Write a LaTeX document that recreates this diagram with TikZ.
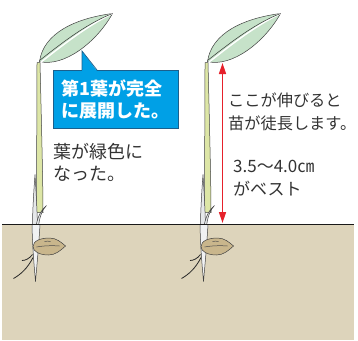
\documentclass[tikz,border=0pt]{standalone}
\usepackage{fontspec}
\setmainfont{Noto Sans CJK JP}
\usetikzlibrary{arrows.meta}

\definecolor{soil}{HTML}{DDD4BB}
\definecolor{leafgreen}{HTML}{C6E2C9}
\definecolor{stemgreen}{HTML}{DDE6A6}
\definecolor{sheath}{HTML}{E6E8EA}
\definecolor{husk}{HTML}{C9B68C}
\definecolor{noteblue}{HTML}{00A0E6}
\definecolor{noteedge}{HTML}{1B5F8C}
\definecolor{arrowred}{HTML}{E6212B}
\definecolor{ink}{HTML}{333333}

\begin{document}
\begin{tikzpicture}[x=1pt,y=-1pt,
  outline/.style={draw=black!75,line width=0.5pt},
  plaintext/.style={anchor=north west,inner sep=0pt,align=left,text=ink,font=\fontsize{17}{23}\selectfont},
  note/.style={anchor=north west,fill=noteblue,draw=noteedge,line width=0.7pt,text=white,align=left,
    font=\bfseries\fontsize{18}{22}\selectfont,inner xsep=5pt,inner ysep=4pt,minimum width=125pt,minimum height=58pt},
  seedling/.pic={
    \draw[outline,fill=leafgreen] (0,-163) .. controls (4,-191) and (35,-206) .. (73,-211)
      .. controls (57,-182) and (24,-157) .. cycle;
    \draw[white,line width=1.4pt] (1,-162) .. controls (19,-176) and (46,-198) .. (73,-211);
    \draw[black!80,line width=0.5pt] (0,-164) .. controls (18,-178) and (45,-200) .. (73,-211);
    \draw[outline,fill=stemgreen] (-2.5,-162) -- (0.5,-162) .. controls (2,-100) and (3.5,-40) .. (3.5,-12)
      -- (-3,-12) .. controls (-3,-60) and (-2.5,-120) .. cycle;
    \draw[outline,fill=sheath] (-4.5,-50) .. controls (-6,-30) and (-7,-10) .. (-7,0)
      -- (-2,0) .. controls (-2.5,-15) and (-3.5,-35) .. cycle;
    \draw[outline,fill=sheath] (7,-19) .. controls (3,-15) and (0,-8) .. (-1,2)
      -- (-3.5,2) .. controls (-2,-8) and (2,-15) .. cycle;
    \draw[outline,fill=sheath!60] (-7.5,0) .. controls (-7,25) and (-5,45) .. (-4,57)
      .. controls (-3,45) and (-1,25) .. (0.5,0) -- cycle;
    \draw[black!85,line width=0.8pt] (-6.5,33) .. controls (-12,44) and (-19,50) .. (-26,54);
    \draw[black!85,line width=0.8pt] (-7,30) .. controls (-10,34) and (-14,36) .. (-17.5,36);
    \draw[outline,fill=husk] (-6.5,22) .. controls (-6.5,16) and (2,13.5) .. (10,13.5)
      .. controls (17,13.5) and (22,18) .. (26,21.5) .. controls (21,26) and (16,30.5) .. (9,30.5)
      .. controls (0,30.5) and (-6.5,27) .. cycle;
    \draw[black!70,line width=0.5pt] (-3,22.5) .. controls (5,21) and (14,21) .. (20,21.5);
    \draw[black!70,line width=0.5pt] (5,17) .. controls (7,16.5) and (9,16.5) .. (11,17);
  }]
\useasboundingbox (0,0) rectangle (358,340);
\fill[soil] (2,224.5) rectangle (354,340);
\pic at (39.5,224.5) {seedling};
\pic at (207.5,224.5) {seedling};
\coordinate (groundL) at (2,224.5);
\coordinate (groundR) at (354,224.5);
\draw[black!90,line width=1.2pt] (groundL) -- (groundR);

\coordinate (notetip) at (82,51);
\node[note] (note) at (53,70) {第1葉が完全\\に展開した。};
\fill[noteblue] ([xshift=29pt,yshift=-1pt]note.north west) -- (notetip) -- ([xshift=44pt,yshift=-1pt]note.north west) -- cycle;
\draw[noteedge,line width=0.7pt] ([xshift=29pt]note.north west) -- (notetip) -- ([xshift=44pt]note.north west);

\node[plaintext,font=\fontsize{18}{22}\selectfont] (green) at (53,143) {葉が緑色に\\なった。};
\node[plaintext,font=\fontsize{16.2}{23}\selectfont] (stretch) at (228,92.5) {ここが伸びると\\苗が徒長します。};
\node[plaintext] (best) at (233,160) {3.5〜4.0㎝\\がベスト};

\coordinate (leafbase) at (222.5,63);
\coordinate (groundmark) at (222.5,223);
\draw[arrowred,line width=1.6pt,{Triangle[width=7pt,length=11pt]}-{Triangle[width=7pt,length=11pt]}] (leafbase) -- (groundmark);
\end{tikzpicture}
\end{document}
